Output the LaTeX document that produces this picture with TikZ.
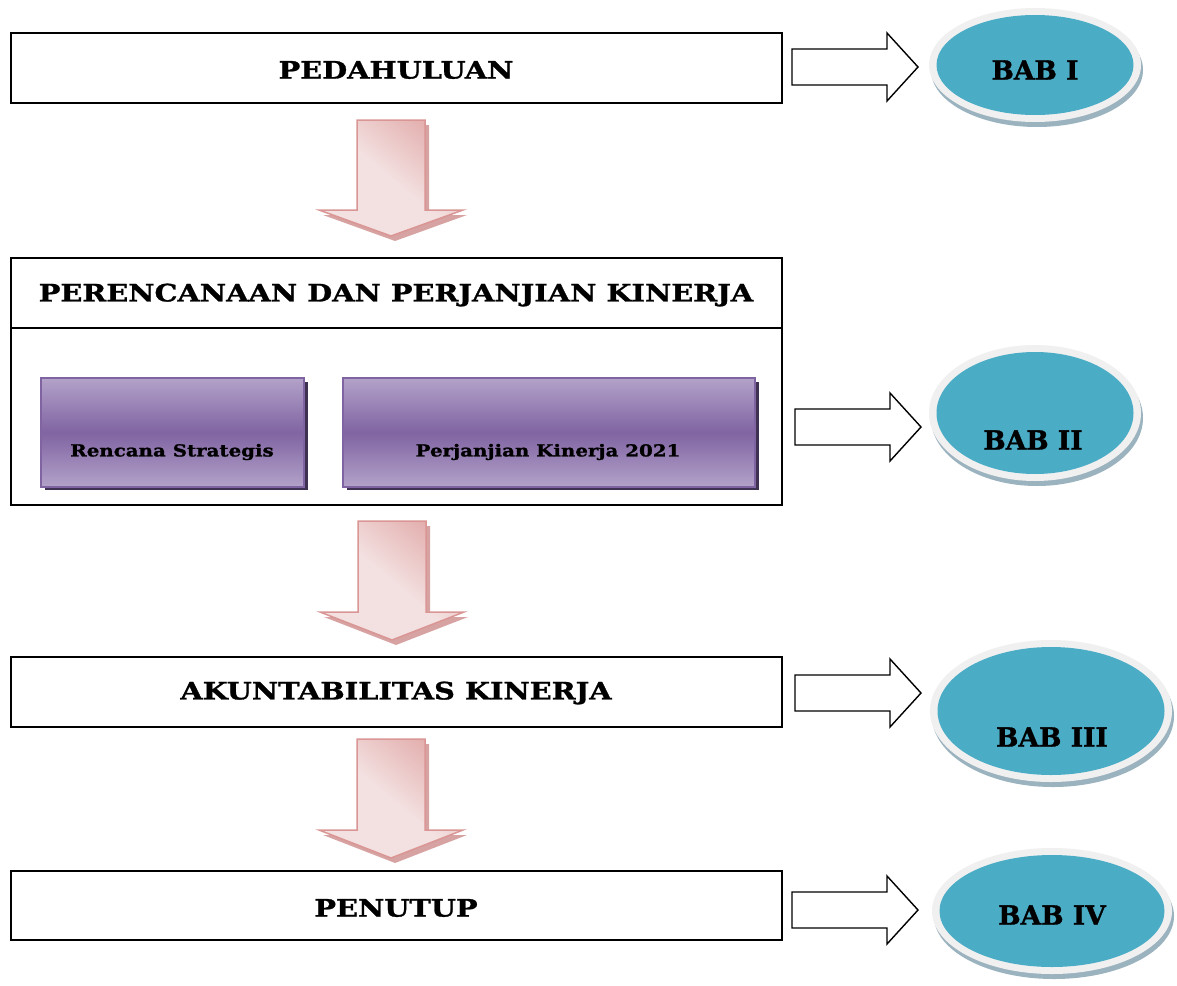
\documentclass[tikz,border=0pt]{standalone}
\usepackage{fontspec}
\setmainfont{DejaVu Serif}
\newfontfamily\widefont{DejaVu Serif}[FakeStretch=1.2, BoldFeatures={FakeBold=1.2}]
\newfontfamily\babfont{DejaVu Serif}[BoldFeatures={FakeBold=1.2}]
\usetikzlibrary{shapes.geometric,calc}
\definecolor{pinkA}{HTML}{E3B0AF}
\definecolor{pinkB}{HTML}{F3E0E0}
\definecolor{pinkLine}{HTML}{D99694}
\definecolor{pinkShadow}{HTML}{C98583}
\definecolor{purpTop}{HTML}{B3A2C9}
\definecolor{purpMid}{HTML}{8064A2}
\definecolor{purpLine}{HTML}{8064A2}
\definecolor{purpShadow}{HTML}{3F3151}
\definecolor{tealF}{HTML}{4BACC6}
\definecolor{rimC}{HTML}{F0F0F0}
\definecolor{ellShadow}{HTML}{9BB3BF}
\tikzset{
  titlebox/.style={draw=black, line width=1.5pt, fill=white},
  titletext/.style={font=\widefont\fontsize{24}{28}\selectfont\bfseries, inner sep=0pt},
  subtext/.style={font=\widefont\fontsize{16.5}{20}\selectfont\bfseries, inner sep=0pt},
  babtext/.style={font=\babfont\fontsize{26.5}{30}\selectfont\bfseries, inner sep=0pt},
  rarrow/.style={draw=black, line width=1.4pt, fill=white},
  pinkarrow/.style={draw=pinkLine, line width=1.5pt, shading=axis, top color=pinkA, bottom color=pinkB, middle color=pinkB, shading angle=-40},
  pinkshadow/.style={fill=pinkShadow, opacity=0.75},
}
% right block arrow: #1 = left x, #2 = centre y
\newcommand{\myRArrow}[2]{%
  \draw[rarrow] (#1,#2-18) -- ++(95,0) -- ++(0,-16) -- (#1+126,#2) -- (#1+95,#2+34) -- ++(0,-16) -- (#1,#2+18) -- cycle;}
% pink down arrow: #1 = centre x, #2 = top y, #3 = wing y, #4 = tip y
\newcommand{\myDArrow}[4]{%
  \fill[pinkshadow] (#1-34+4,#2+5) -- (#1+34+4,#2+5) -- (#1+34+4,#3+5) -- (#1+72+4,#3+5) -- (#1+4,#4+5) -- (#1-72+4,#3+5) -- (#1-34+4,#3+5) -- cycle;
  \draw[pinkarrow] (#1-34,#2) -- (#1+34,#2) -- (#1+34,#3) -- (#1+72,#3) -- (#1,#4) -- (#1-72,#3) -- (#1-34,#3) -- cycle;}
% ellipse: #1 centre, #2 rx, #3 ry
\newcommand{\myEll}[3]{%
  \fill[ellShadow] ($(#1)+(2,5)$) ellipse [x radius=#2, y radius=#3];
  \fill[rimC] (#1) ellipse [x radius=#2, y radius=#3];
  \fill[tealF] (#1) ellipse [x radius=#2-7.5, y radius=#3-7];}
\begin{document}
\begin{tikzpicture}[x=1pt, y=-1pt]
\useasboundingbox (0,0) rectangle (1177,985);
\fill[white] (0,0) rectangle (1177,985);

% title boxes
\draw[titlebox] (11,33) rectangle (782,103);
\node[titletext] (pend) at (396,70) {PEDAHULUAN};

\draw[titlebox] (11,258) rectangle (782,505);
\draw[line width=1.5pt] (11,328) -- (782,328);
\node[titletext] (renc) at (396,295) {PERENCANAAN DAN PERJANJIAN KINERJA};

\draw[titlebox] (11,657) rectangle (782,727);
\node[titletext] (akun) at (396,693) {AKUNTABILITAS KINERJA};

\draw[titlebox] (11,871) rectangle (782,940);
\node[titletext] (penu) at (396,908) {PENUTUP};

% purple sub boxes
\fill[purpShadow] (45,382) rectangle (308,490);
\shade[top color=purpTop, bottom color=purpTop, middle color=purpMid] (41,378) rectangle (304,487);
\draw[purpLine, line width=1.5pt] (41,378) rectangle (304,487);
\node[subtext] (rs) at (172,452) {Rencana Strategis};

\fill[purpShadow] (347,382) rectangle (759,490);
\shade[top color=purpTop, bottom color=purpTop, middle color=purpMid] (343,378) rectangle (755,487);
\draw[purpLine, line width=1.5pt] (343,378) rectangle (755,487);
\node[subtext] (pk) at (548,452) {Perjanjian Kinerja 2021};

% pink down arrows
\myDArrow{391}{120}{210}{236}
\myDArrow{392}{521}{612}{640}
\myDArrow{391}{739}{830}{858}

% right arrows
\myRArrow{792}{67}
\myRArrow{795}{427}
\myRArrow{795}{693}
\myRArrow{792}{910}

% ellipses
\myEll{1035,65}{106}{57}
\node[babtext] (b1) at (1035,70) {BAB I};
\myEll{1035,413}{106}{68}
\node[babtext] (b2) at (1033,440) {BAB II};
\myEll{1051,711}{121}{71}
\node[babtext] (b3) at (1052,737) {BAB III};
\myEll{1052,911}{120}{63}
\node[babtext] (b4) at (1052,915) {BAB IV};
\end{tikzpicture}
\end{document}
